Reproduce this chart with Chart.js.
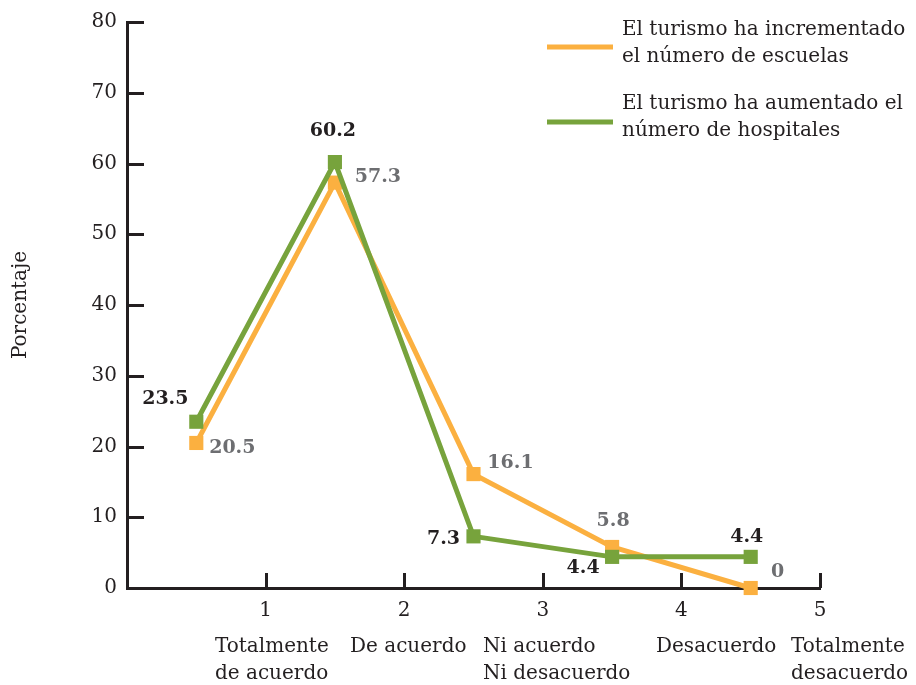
<!DOCTYPE html>
<html>
<head>
<meta charset="utf-8">
<script src="https://cdn.jsdelivr.net/npm/chart.js@4.4.1/dist/chart.umd.min.js"></script>
<style>
  html, body { margin: 0; padding: 0; background: #fff; }
  #wrap { width: 916px; height: 685px; position: relative; }
</style>
</head>
<body>
<div id="wrap"><canvas id="lineChart"></canvas></div>
<script>
'use strict';

// data
var xPos = [0.5, 1.5, 2.5, 3.5, 4.5];
var categories = [
    ['Totalmente', 'de acuerdo'],
    ['De acuerdo'],
    ['Ni acuerdo', 'Ni desacuerdo'],
    ['Desacuerdo'],
    ['Totalmente', 'desacuerdo']
];
var escuelas = [20.5, 57.3, 16.1, 5.8, 0];
var hospitales = [23.5, 60.2, 7.3, 4.4, 4.4];
var seriesNames = [
    ['El turismo ha incrementado', 'el número de escuelas'],
    ['El turismo ha aumentado el', 'número de hospitales']
];
var xTicks = [1, 2, 3, 4, 5];
var yTicks = [10, 20, 30, 40, 50, 60, 70, 80];
var yTitle = 'Porcentaje';

// styles
var orange = '#FBB040';
var green = '#77A33C';
var ink = '#231F20';
var grey = '#6D6E71';
var FONT = '"DejaVu Serif", serif';
var catLeft = [215, 350, 483, 656, 791];
var offEscuelas = [[36, 5], [43, -6], [37, -11], [1, -26], [27, -16]];
var offHospitales = [[-31, -23], [-2, -31], [-30, 3], [-29, 11], [-4, -20]];

function toPoints(vals) {
    return vals.map(function (v, i) { return { x: xPos[i], y: v }; });
}

var extras = {
    id: 'extras',
    afterDraw: function (chart) {
        var c = chart.ctx;
        var xs = chart.scales.x, ys = chart.scales.y;
        var area = chart.chartArea;
        c.save();
        // inner ticks
        c.strokeStyle = ink;
        c.lineWidth = 3;
        c.beginPath();
        yTicks.forEach(function (t) {
            var py = Math.round(ys.getPixelForValue(t)) + 0.5;
            c.moveTo(area.left, py);
            c.lineTo(area.left + 17, py);
        });
        xTicks.forEach(function (t) {
            var px = Math.round(xs.getPixelForValue(t)) + 0.5;
            c.moveTo(px, area.bottom);
            c.lineTo(px, area.bottom - 15);
        });
        c.stroke();

        // category labels under the axis
        c.font = '20px ' + FONT;
        c.fillStyle = ink;
        c.textAlign = 'left';
        c.textBaseline = 'middle';
        categories.forEach(function (lines, i) {
            lines.forEach(function (s, j) {
                c.fillText(s, catLeft[i], 647 + j * 27);
            });
        });

        // legend
        var lineY = [47, 122];
        var textY = [30, 104];
        chart.data.datasets.forEach(function (ds, i) {
            var k = ds.nameIdx;
            c.strokeStyle = ds.borderColor;
            c.lineWidth = 5;
            c.beginPath();
            c.moveTo(547, lineY[k]);
            c.lineTo(613, lineY[k]);
            c.stroke();
            c.fillStyle = ink;
            seriesNames[k].forEach(function (s, j) {
                c.fillText(s, 622, textY[k] + j * 27);
            });
        });

        // value labels
        c.font = 'bold 19px ' + FONT;
        c.textAlign = 'center';
        chart.data.datasets.forEach(function (ds, i) {
            var meta = chart.getDatasetMeta(i);
            c.fillStyle = ds.labelColor;
            meta.data.forEach(function (pt, j) {
                var o = ds.labelOffsets[j];
                c.fillText(String(ds.data[j].y), pt.x + o[0], pt.y + o[1]);
            });
        });
        c.restore();
    }
};

var ctx = document.getElementById('lineChart');
new Chart(ctx, {
    type: 'line',
    data: {
        datasets: [
            {
                label: seriesNames[0].join(' '),
                nameIdx: 0,
                data: toPoints(escuelas),
                borderColor: orange,
                backgroundColor: orange,
                pointBackgroundColor: orange,
                labelColor: grey,
                labelOffsets: offEscuelas,
                order: 1
            },
            {
                label: seriesNames[1].join(' '),
                nameIdx: 1,
                data: toPoints(hospitales),
                borderColor: green,
                backgroundColor: green,
                pointBackgroundColor: green,
                labelColor: ink,
                labelOffsets: offHospitales,
                order: 0
            }
        ]
    },
    options: {
        responsive: true,
        maintainAspectRatio: false,
        animation: false,
        layout: { padding: { left: 0, top: 18, right: 96, bottom: 0 } },
        elements: {
            line: { borderWidth: 5, tension: 0 },
            point: { pointStyle: 'rect', radius: 10, borderWidth: 0, hoverRadius: 10 }
        },
        datasets: { line: { clip: false } },
        plugins: {
            legend: { display: false },
            tooltip: { enabled: false }
        },
        scales: {
            x: {
                type: 'linear',
                min: 0,
                max: 5,
                grid: { display: false, drawTicks: false },
                border: { display: true, color: ink, width: 3 },
                ticks: {
                    stepSize: 1,
                    padding: 11,
                    color: ink,
                    font: { family: FONT, size: 20 },
                    callback: function (v) { return xTicks.indexOf(v) >= 0 ? String(v) : ''; }
                },
                afterFit: function (s) { s.height = 97; }
            },
            y: {
                min: 0,
                max: 80,
                grid: { display: false, drawTicks: false },
                border: { display: true, color: ink, width: 3 },
                ticks: {
                    stepSize: 10,
                    padding: 10,
                    color: ink,
                    font: { family: FONT, size: 20 }
                },
                title: {
                    display: true,
                    text: yTitle,
                    color: ink,
                    font: { family: FONT, size: 20 },
                    padding: { top: 9, bottom: 0 }
                },
                afterFit: function (s) { s.width = 127; }
            }
        }
    },
    plugins: [extras]
});
</script>
</body>
</html>
